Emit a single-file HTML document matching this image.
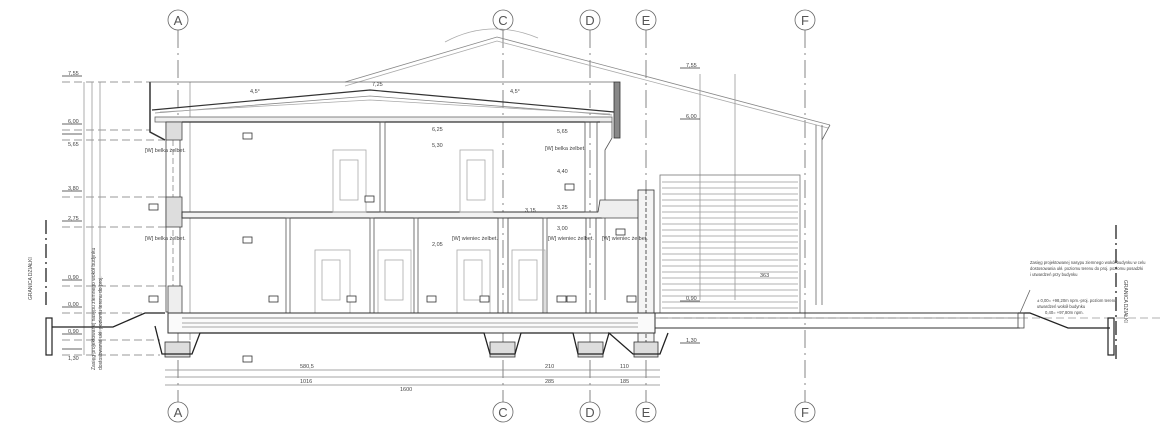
<!DOCTYPE html>
<html><head><meta charset="utf-8"><style>
html,body{margin:0;padding:0;background:#fff;}
svg{display:block;font-family:"Liberation Sans",sans-serif;}
</style></head><body>
<svg width="1162" height="429" viewBox="0 0 1162 429" xmlns="http://www.w3.org/2000/svg">
<g fill="none" stroke="#555" stroke-width="0.8">
<g stroke="#666">
<circle cx="178" cy="20" r="10"/><circle cx="503" cy="20" r="10"/><circle cx="590" cy="20" r="10"/><circle cx="646" cy="20" r="10"/><circle cx="805" cy="20" r="10"/>
<circle cx="178" cy="412" r="10"/><circle cx="503" cy="412" r="10"/><circle cx="590" cy="412" r="10"/><circle cx="646" cy="412" r="10"/><circle cx="805" cy="412" r="10"/>
<g stroke-dasharray="18,5,2,5">
<line x1="178" y1="30" x2="178" y2="402"/><line x1="503" y1="30" x2="503" y2="402"/><line x1="590" y1="30" x2="590" y2="402"/><line x1="646" y1="30" x2="646" y2="402"/><line x1="805" y1="30" x2="805" y2="402"/>
</g></g>
<path d="M345 82 L497 37 L830 125" stroke="#888"/>
<path d="M345 86 L497 41 L828 128" stroke="#aaa"/>
<path d="M445 42 Q490 18 538 38" stroke="#aaa"/>
<g stroke="#777" stroke-dasharray="8,4">
<line x1="62" y1="82" x2="150" y2="82"/><line x1="62" y1="130" x2="150" y2="130"/><line x1="62" y1="140" x2="165" y2="140"/>
<line x1="62" y1="197" x2="168" y2="197"/><line x1="62" y1="227" x2="168" y2="227"/><line x1="62" y1="286" x2="168" y2="286"/>
<line x1="62" y1="313" x2="150" y2="313"/><line x1="62" y1="340" x2="160" y2="340"/><line x1="62" y1="355" x2="160" y2="355"/>
<line x1="660" y1="318" x2="1160" y2="318" stroke="#999"/>
</g>
<g stroke="#999"><line x1="84" y1="82" x2="84" y2="355"/><line x1="92" y1="82" x2="92" y2="355"/><line x1="100" y1="82" x2="100" y2="355"/><line x1="190" y1="82" x2="190" y2="340"/>
<line x1="700" y1="74" x2="700" y2="300"/><line x1="735" y1="74" x2="735" y2="300"/></g>
<g stroke="#333">
<path d="M62 76h20M62 124h20M62 134h20M62 191h20M62 221h20M62 280h20M62 307h20M62 334h20M62 349h20M680 68h20M680 119h20M680 301h20M680 343h20"/>
</g>
<path d="M150 82 L150 132 L165 140" stroke="#333" stroke-width="1.5"/>
<line x1="150" y1="82" x2="614" y2="82" stroke="#666"/>
<path d="M152 110 L370 90 L614 112" stroke="#333" stroke-width="1.2"/>
<path d="M155 113 L370 96 L612 115" stroke="#888"/>
<path d="M160 112 L370 100 L610 114" stroke="#aaa"/>
<rect x="155" y="117" width="457" height="5" fill="#eee" stroke="#666"/>
<line x1="182" y1="122" x2="600" y2="122" stroke="#333" stroke-width="1.2"/>
<rect x="614" y="82" width="6" height="56" fill="#888" stroke="#333"/>
<path d="M600 122 L612 122 L612 138 L605 150 L605 300" stroke="#555"/>
<rect x="166" y="122" width="14" height="190" fill="#fff" stroke="#444"/>
<line x1="173" y1="140" x2="173" y2="310" stroke="#888" stroke-dasharray="6,3"/>
<rect x="166" y="122" width="16" height="18" fill="#ddd" stroke="#444"/>
<rect x="166" y="197" width="16" height="30" fill="#ddd" stroke="#444"/>
<rect x="168" y="286" width="14" height="27" fill="#eee" stroke="#444"/>
<rect x="182" y="212" width="420" height="6" fill="#f2f2f2" stroke="#333" stroke-width="1"/>
<path d="M598 212 L600 200 L640 200 L640 218 L602 218" stroke="#444" fill="#eee"/>
<rect x="380" y="122" width="5" height="90" stroke="#555"/>
<rect x="585" y="122" width="12" height="90" stroke="#555"/>
<rect x="333" y="150" width="33" height="62" stroke="#aaa"/><rect x="340" y="160" width="18" height="40" stroke="#aaa"/>
<rect x="460" y="150" width="33" height="62" stroke="#aaa"/><rect x="467" y="160" width="18" height="40" stroke="#aaa"/>
<rect x="286" y="218" width="4" height="95"/><rect x="370" y="218" width="4" height="95"/><rect x="414" y="218" width="4" height="95"/>
<rect x="498" y="218" width="10" height="95" stroke="#444"/><rect x="543" y="218" width="4" height="95"/><rect x="586" y="218" width="10" height="95" stroke="#444"/>
<rect x="638" y="190" width="16" height="165" fill="#f4f4f4" stroke="#333"/>
<line x1="646" y1="190" x2="646" y2="355" stroke="#333" stroke-dasharray="4,2"/>
<rect x="315" y="250" width="35" height="63" stroke="#aaa"/><rect x="322" y="260" width="18" height="40" stroke="#aaa"/>
<rect x="378" y="250" width="33" height="63" stroke="#aaa"/><rect x="385" y="260" width="18" height="40" stroke="#aaa"/>
<rect x="457" y="250" width="33" height="63" stroke="#aaa"/><rect x="464" y="260" width="18" height="40" stroke="#aaa"/>
<rect x="512" y="250" width="33" height="63" stroke="#aaa"/><rect x="519" y="260" width="18" height="40" stroke="#aaa"/>
<rect x="168" y="313" width="487" height="20" fill="#fafafa" stroke="#333" stroke-width="1"/>
<line x1="182" y1="318" x2="638" y2="318" stroke="#666"/><line x1="182" y1="323" x2="638" y2="323" stroke="#888"/><line x1="182" y1="327" x2="638" y2="327" stroke="#888"/>
<g fill="#ddd" stroke="#333">
<rect x="165" y="342" width="25" height="15"/><rect x="490" y="342" width="25" height="15"/><rect x="578" y="342" width="25" height="15"/><rect x="634" y="342" width="24" height="15"/>
</g>
<path d="M155 326 L162 354 L192 354 L200 333 L484 333 L490 354 L515 354 L521 333 L573 333 L578 354 L603 354 L609 333 L633 354 L660 354 L668 333" stroke="#222" stroke-width="1.3"/>
<rect x="660" y="175" width="140" height="138" stroke="#777"/>
<line x1="655" y1="313" x2="1020" y2="313" stroke="#333" stroke-width="1"/>
<line x1="655" y1="318" x2="1020" y2="318" stroke="#777"/>
<line x1="655" y1="328" x2="1020" y2="328" stroke="#333" stroke-width="1"/>
<path d="M816 125 L816 305 M822 125 L822 305 M830 125 L822 140" stroke="#666"/>
<path d="M1018 313 L1030 313 L1068 328 L1110 328" stroke="#222" stroke-width="1.3"/>
<rect x="1018" y="313" width="6" height="15" stroke="#444"/>
<rect x="1108" y="318" width="6" height="37" stroke="#222" stroke-width="1.2"/>
<line x1="1116" y1="225" x2="1116" y2="360" stroke="#222" stroke-dasharray="14,4,2,4" stroke-width="1.3"/>
<line x1="1030" y1="290" x2="1020" y2="313" stroke="#666"/>
<path d="M52 327 L113 327 L145 313 L165 313" stroke="#222" stroke-width="1.3"/>
<rect x="46" y="318" width="6" height="37" stroke="#222" stroke-width="1.2"/>
<line x1="46" y1="220" x2="46" y2="305" stroke="#222" stroke-dasharray="14,4,2,4" stroke-width="1.3"/>
<g stroke="#888"><line x1="165" y1="370" x2="660" y2="370"/><line x1="165" y1="377" x2="660" y2="377"/><line x1="165" y1="385" x2="660" y2="385"/></g>
<g stroke="#333" fill="#fff">
<rect x="243" y="133" width="9" height="6"/><rect x="149" y="204" width="9" height="6"/><rect x="365" y="196" width="9" height="6"/><rect x="243" y="237" width="9" height="6"/>
<rect x="149" y="296" width="9" height="6"/><rect x="269" y="296" width="9" height="6"/><rect x="347" y="296" width="9" height="6"/><rect x="427" y="296" width="9" height="6"/>
<rect x="480" y="296" width="9" height="6"/><rect x="557" y="296" width="9" height="6"/><rect x="567" y="296" width="9" height="6"/><rect x="627" y="296" width="9" height="6"/>
<rect x="243" y="356" width="9" height="6"/><rect x="565" y="184" width="9" height="6"/><rect x="616" y="229" width="9" height="6"/>
</g>
</g>
<g stroke="#999" stroke-width="0.7">
<line x1="662" y1="182" x2="798" y2="182"/><line x1="662" y1="188" x2="798" y2="188"/><line x1="662" y1="194" x2="798" y2="194"/><line x1="662" y1="200" x2="798" y2="200"/><line x1="662" y1="206" x2="798" y2="206"/><line x1="662" y1="212" x2="798" y2="212"/><line x1="662" y1="218" x2="798" y2="218"/><line x1="662" y1="224" x2="798" y2="224"/><line x1="662" y1="230" x2="798" y2="230"/><line x1="662" y1="236" x2="798" y2="236"/><line x1="662" y1="242" x2="798" y2="242"/><line x1="662" y1="248" x2="798" y2="248"/><line x1="662" y1="254" x2="798" y2="254"/><line x1="662" y1="260" x2="798" y2="260"/><line x1="662" y1="266" x2="798" y2="266"/><line x1="662" y1="272" x2="798" y2="272"/><line x1="662" y1="278" x2="798" y2="278"/><line x1="662" y1="284" x2="798" y2="284"/><line x1="662" y1="290" x2="798" y2="290"/><line x1="662" y1="296" x2="798" y2="296"/><line x1="662" y1="302" x2="798" y2="302"/><line x1="662" y1="308" x2="798" y2="308"/>
</g>
<g font-size="13" fill="#555" text-anchor="middle">
<text x="178" y="25">A</text><text x="503" y="25">C</text><text x="590" y="25">D</text><text x="646" y="25">E</text><text x="805" y="25">F</text>
<text x="178" y="417">A</text><text x="503" y="417">C</text><text x="590" y="417">D</text><text x="646" y="417">E</text><text x="805" y="417">F</text>
</g>
<g font-size="5.5" fill="#444">
<text x="68" y="75">7,55</text><text x="68" y="123">6,00</text><text x="68" y="146">5,65</text><text x="68" y="190">3,80</text><text x="68" y="220">2,75</text><text x="68" y="279">0,90</text><text x="68" y="306">0,00</text><text x="68" y="333">0,90</text><text x="68" y="360">1,30</text>
<text x="686" y="67">7,55</text><text x="686" y="118">6,00</text><text x="686" y="300">0,90</text><text x="686" y="342">1,30</text>
<text x="372" y="86">7,25</text><text x="432" y="131">6,25</text><text x="432" y="147">5,30</text><text x="557" y="133">5,65</text><text x="557" y="173">4,40</text>
<text x="525" y="212">3,15</text><text x="557" y="209">3,25</text><text x="557" y="230">3,00</text><text x="432" y="246">2,05</text>
<text x="250" y="93">4,5°</text><text x="510" y="93">4,5°</text>
<text x="300" y="368">580,5</text><text x="300" y="383">1016</text><text x="400" y="391">1600</text>
<text x="545" y="368">210</text><text x="545" y="383">285</text><text x="620" y="368">110</text><text x="620" y="383">185</text>
<text x="145" y="152">[W] belka żelbet.</text><text x="145" y="240">[W] belka żelbet.</text><text x="545" y="150">[W] belka żelbet.</text>
<text x="452" y="240">[W] wieniec żelbet.</text><text x="548" y="240">[W] wieniec żelbet.</text><text x="602" y="240">[W] wieniec żelbet.</text>
<text x="760" y="277">363</text>
</g>
<g font-size="4.2" fill="#444">
<text x="1030" y="264">Zasięg projektowanej nasypu ziemnego wokół budynku w celu</text>
<text x="1030" y="270">dostosowania ukł. poziomu terenu do proj. poziomu posadzki</text>
<text x="1030" y="276">i utwardzeń przy budynku</text>
<text x="1037" y="302">± 0,00= +98,20m npm.-proj. poziom terenu</text>
<text x="1037" y="308">utwardzeń wokół budynku</text>
<text x="1045" y="314">0,40= +97,80m npm.</text>
</g>
<g font-size="5" fill="#444">
<text transform="translate(95,370) rotate(-90)">Zasięg projektowanej nasypu ziemnego wokół budynku</text>
<text transform="translate(102,370) rotate(-90)">dostosowania ukł. poziomu terenu do proj.</text>
<text transform="translate(32,300) rotate(-90)">GRANICA DZIAŁKI</text>
<text transform="translate(1124,280) rotate(90)">GRANICA DZIAŁKI</text>
</g>
</svg>
</body></html>
